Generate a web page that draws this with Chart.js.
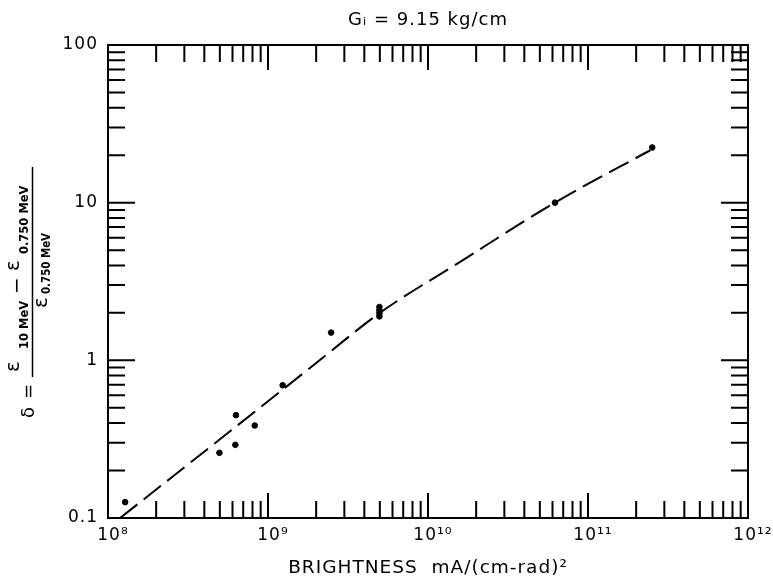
<!DOCTYPE html>
<html>
<head>
<meta charset="utf-8">
<script src="https://cdn.jsdelivr.net/npm/chart.js@4/dist/chart.umd.min.js"></script>
<style>
  body { margin: 0; background: #fff; }
  #wrap { width: 773px; height: 581px; }
</style>
</head>
<body>
<div id="wrap"><canvas id="deltaChart"></canvas></div>
<script>
// measured points
const brightness = [1.28e8, 4.97e8, 6.25e8, 6.3e8, 8.26e8, 1.235e9, 2.48e9,
  4.97e9, 4.97e9, 4.97e9, 4.97e9, 6.22e10, 2.52e11];
const delta = [0.126, 0.259, 0.291, 0.449, 0.386, 0.695, 1.5,
  1.9, 1.99, 2.08, 2.18, 10.0, 22.4];

// dashed fit curve
const curveX = [1.19e8, 1e9, 2.1e9, 5e9, 1.58e10, 6.2e10, 2.45e11];
const curveY = [0.1, 0.55, 1.0, 2.0, 4.2, 10, 21.5];

const xTicks = [1e8, 1e9, 1e10, 1e11, 1e12];
const yTicks = [0.1, 1, 10, 100];
const yTickLabels = ["0.1", "1", "10", "100"];

const sup = { 0: "⁰", 1: "¹", 2: "²", 3: "³", 4: "⁴", 5: "⁵", 6: "⁶", 7: "⁷", 8: "⁸", 9: "⁹" };
function powLabel(v) {
  const e = String(Math.round(Math.log10(v)));
  return "10" + e.split("").map((d) => sup[d]).join("");
}

// wider lettering like the original
const spacing = {
  id: "spacing",
  beforeDraw(chart) {
    chart.ctx.letterSpacing = "1px";
  },
};

// inward ticks on all four sides + frame + y axis label
const frame = {
  id: "frame",
  afterDraw(chart) {
    const { ctx, chartArea: a, scales } = chart;
    ctx.save();
    ctx.letterSpacing = "0px";
    ctx.strokeStyle = "#000";
    ctx.lineWidth = 2;
    ctx.strokeRect(a.left, a.top, a.right - a.left, a.bottom - a.top);
    ctx.beginPath();
    for (let e = 8; e < 12; e++) {
      for (let m = 1; m <= 10; m++) {
        if (m === 1 && e === 8) continue;
        if (m === 10 && e === 11) continue;
        const px = scales.x.getPixelForValue(m * Math.pow(10, e));
        const len = m === 10 ? 25 : 17;
        ctx.moveTo(px, a.bottom);
        ctx.lineTo(px, a.bottom - len);
        ctx.moveTo(px, a.top);
        ctx.lineTo(px, a.top + len);
      }
    }
    for (let e = -1; e < 2; e++) {
      for (let m = 1; m <= 10; m++) {
        if (m === 1 && e === -1) continue;
        if (m === 10 && e === 1) continue;
        const py = scales.y.getPixelForValue(m * Math.pow(10, e));
        const len = m === 10 ? 27 : 17;
        ctx.moveTo(a.left, py);
        ctx.lineTo(a.left + len, py);
        ctx.moveTo(a.right, py);
        ctx.lineTo(a.right - len, py);
      }
    }
    ctx.stroke();

    // delta = (e10 - e0.750) / e0.750, rotated
    ctx.rotate(-Math.PI / 2);
    ctx.fillStyle = "#000";
    ctx.textAlign = "left";
    ctx.textBaseline = "alphabetic";
    const big = "20px 'DejaVu Sans'";
    const sub = "bold 11.5px 'DejaVu Sans'";
    ctx.font = "18px 'DejaVu Sans'";
    ctx.fillText("δ", -418, 34);
    ctx.fillText("=", -399, 34);
    ctx.font = big;
    ctx.fillText("ε", -372, 19);
    ctx.font = sub;
    ctx.fillText("10 MeV", -349, 28, 52);
    ctx.font = big;
    ctx.fillText("−", -294, 23);
    ctx.fillText("ε", -271, 19);
    ctx.font = sub;
    ctx.fillText("0.750 MeV", -254, 28, 76);
    ctx.font = big;
    ctx.fillText("ε", -308, 47);
    ctx.font = sub;
    ctx.fillText("0.750 MeV", -294, 50, 61);
    ctx.beginPath();
    ctx.lineWidth = 1.5;
    ctx.moveTo(-377, 32.5);
    ctx.lineTo(-167, 32.5);
    ctx.stroke();
    ctx.restore();
  },
};

new Chart(document.getElementById("deltaChart"), {
  type: "scatter",
  data: {
    datasets: [
      {
        label: "measured",
        data: brightness.map((x, i) => ({ x: x, y: delta[i] })),
        backgroundColor: "#000",
        borderColor: "#000",
        pointRadius: 2.8,
        pointHoverRadius: 2.8,
      },
      {
        type: "line",
        label: "fit",
        data: curveX.map((x, i) => ({ x: x, y: curveY[i] })),
        borderColor: "#000",
        borderWidth: 2,
        borderDash: [22, 8],
        pointRadius: 0,
        fill: false,
        cubicInterpolationMode: "monotone",
      },
    ],
  },
  options: {
    responsive: true,
    maintainAspectRatio: false,
    animation: false,
    layout: { padding: { left: 0, right: 25, top: 0, bottom: 0 } },
    scales: {
      x: {
        type: "logarithmic",
        min: 1e8,
        max: 1e12,
        afterBuildTicks: (s) => { s.ticks = xTicks.map((v) => ({ value: v })); },
        afterFit: (s) => { s.height = 63; },
        grid: { display: false },
        border: { display: false },
        ticks: {
          autoSkip: false,
          maxRotation: 0,
          padding: -1,
          labelOffset: 5,
          color: "#000",
          font: { family: "'DejaVu Sans'", size: 17 },
          callback: (v) => powLabel(v),
        },
        title: {
          display: true,
          text: "BRIGHTNESS  mA/(cm-rad)²",
          color: "#000",
          font: { family: "'DejaVu Sans'", size: 18.5 },
          padding: { top: 0, bottom: 2 },
        },
      },
      y: {
        type: "logarithmic",
        min: 0.1,
        max: 100,
        afterBuildTicks: (s) => { s.ticks = yTicks.map((v) => ({ value: v })); },
        afterFit: (s) => { s.width = 108; },
        grid: { display: false },
        border: { display: false },
        ticks: {
          autoSkip: false,
          padding: 2,
          color: "#000",
          font: { family: "'DejaVu Sans'", size: 17 },
          callback: (v) => yTickLabels[yTicks.indexOf(v)] ?? "",
        },
      },
    },
    plugins: {
      legend: { display: false },
      tooltip: { enabled: false },
      title: {
        display: true,
        fullSize: false,
        text: "Gᵢ = 9.15 kg/cm",
        color: "#000",
        font: { family: "'DejaVu Sans'", size: 18, weight: "normal" },
        padding: { top: 10, bottom: 13.4 },
      },
    },
  },
  plugins: [spacing, frame],
});
</script>
</body>
</html>
